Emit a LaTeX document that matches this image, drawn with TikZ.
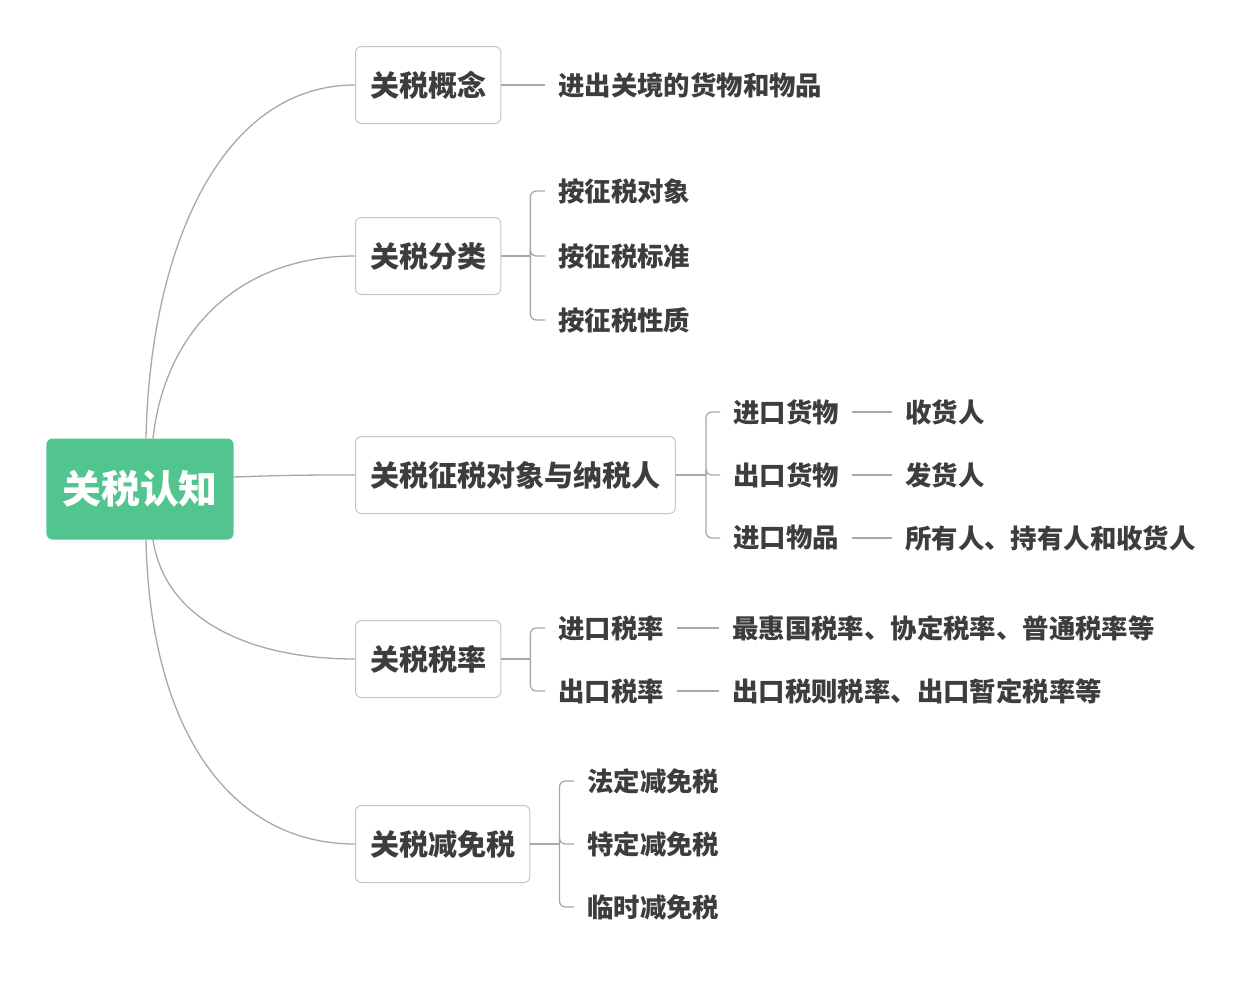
\documentclass[tikz,border=0pt]{standalone}
\usepackage{fontspec}
\setmainfont{Noto Sans CJK SC}
\usepackage{xcolor}
\usetikzlibrary{positioning,calc}
\definecolor{rootGreen}{HTML}{52C48E}
\definecolor{txtGray}{HTML}{3D3D3D}
\definecolor{lineGray}{HTML}{A8A8A8}
\definecolor{boxGray}{HTML}{C6C6C6}

\begin{document}
\begin{tikzpicture}[x=1bp,y=-1bp,text=txtGray,
  rootbox/.style={fill=rootGreen,rounded corners=6bp,minimum width=187bp,minimum height=101bp,
    text=white,font=\bfseries\fontsize{39}{44}\selectfont},
  topic/.style={draw=boxGray,line width=1bp,fill=white,rounded corners=6bp,minimum height=77bp,
    inner xsep=14.5bp,anchor=west,font=\bfseries\fontsize{29.2}{33}\selectfont},
  leaf/.style={inner xsep=13bp,anchor=west,font=\bfseries\fontsize{26.5}{30}\selectfont},
  curve/.style={draw=lineGray,line width=1.3bp},
  branch/.style={draw=lineGray,line width=1.3bp,rounded corners=6bp}]
\useasboundingbox (0,0) rectangle (1256,983);
% central topic
\node[rootbox] (root) at (140,489) {关税认知};
% main topics
\node[topic] (gn) at (355,85) {关税概念};
\node[topic] (fl) at (355,256) {关税分类};
\node[topic] (dx) at (355,475) {关税征税对象与纳税人};
\node[topic] (sl) at (355,659) {关税税率};
\node[topic] (jm) at (355,844) {关税减免税};
% curved connectors from the centre
\draw[curve] ([xshift=6bp]root.north) .. controls (150,250) and (220,85) .. (gn.west);
\draw[curve] ([xshift=13bp]root.north) .. controls (165,330) and (240,256) .. (fl.west);
\draw[curve] ([yshift=12bp]root.east) .. controls (290,475) and (310,475) .. (dx.west);
\draw[curve] ([xshift=13bp]root.south) .. controls (165,620) and (250,659) .. (sl.west);
\draw[curve] ([xshift=6bp]root.south) .. controls (150,730) and (230,844) .. (jm.west);
% subtopics
\node[leaf] (gn1) at (545,85) {进出关境的货物和物品};
\draw[branch] (gn.east) -- (gn1.west);

\node[leaf] (fl1) at (545,191) {按征税对象};
\node[leaf] (fl2) at (545,256) {按征税标准};
\node[leaf] (fl3) at (545,320) {按征税性质};
\coordinate (fl-j) at ([xshift=29bp]fl.east);
\draw[branch] (fl.east) -- (fl-j);
\foreach \c in {fl1,fl2,fl3} \draw[branch] (fl-j) |- (\c.west);

\node[leaf] (dx1) at (720,412) {进口货物};
\node[leaf] (dx2) at (720,475) {出口货物};
\node[leaf] (dx3) at (720,538) {进口物品};
\node[leaf] (dx1a) at (892,412) {收货人};
\node[leaf] (dx2a) at (892,475) {发货人};
\node[leaf] (dx3a) at (892,538) {所有人、持有人和收货人};
\coordinate (dx-j) at ([xshift=30bp]dx.east);
\draw[branch] (dx.east) -- (dx-j);
\foreach \c in {dx1,dx2,dx3}{
  \draw[branch] (dx-j) |- (\c.west);
  \draw[branch] (\c.east) -- (\c a.west);
}

\node[leaf] (sl1) at (545,628) {进口税率};
\node[leaf] (sl2) at (545,691) {出口税率};
\node[leaf] (sl1a) at (719,628) {最惠国税率、协定税率、普通税率等};
\node[leaf] (sl2a) at (719,691) {出口税则税率、出口暂定税率等};
\coordinate (sl-j) at ([xshift=29bp]sl.east);
\draw[branch] (sl.east) -- (sl-j);
\foreach \c in {sl1,sl2}{
  \draw[branch] (sl-j) |- (\c.west);
  \draw[branch] (\c.east) -- (\c a.west);
}

\node[leaf] (jm1) at (574,781) {法定减免税};
\node[leaf] (jm2) at (574,844) {特定减免税};
\node[leaf] (jm3) at (574,907) {临时减免税};
\coordinate (jm-j) at ([xshift=29bp]jm.east);
\draw[branch] (jm.east) -- (jm-j);
\foreach \c in {jm1,jm2,jm3} \draw[branch] (jm-j) |- (\c.west);
\end{tikzpicture}
\end{document}
